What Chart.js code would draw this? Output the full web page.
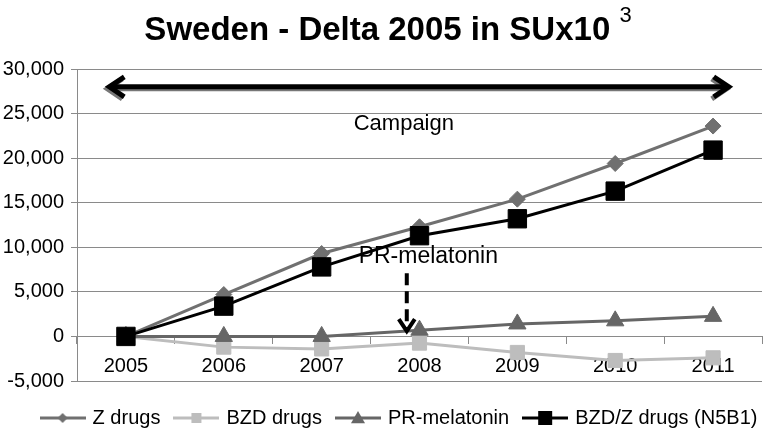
<!DOCTYPE html>
<html>
<head>
<meta charset="utf-8">
<script src="https://cdn.jsdelivr.net/npm/chart.js@4.4.1/dist/chart.umd.min.js"></script>
<style>
  html, body { margin: 0; padding: 0; background: #fff; }
</style>
</head>
<body>
<canvas id="myChart" width="776" height="435"></canvas>
<script>
const years = ["2005", "2006", "2007", "2008", "2009", "2010", "2011"];
const zDrugs = [0, 4700, 9300, 12300, 15400, 19400, 23600];
const bzdDrugs = [0, -1200, -1400, -750, -1800, -2700, -2400];
const prMelatonin = [0, 0, 0, 700, 1400, 1750, 2250];
const bzdZ = [0, 3400, 7800, 11300, 13200, 16300, 20900];
const yMin = -5000;
const yMax = 30000;
const yStep = 5000;

// annotation anchors, in data units (category index, value)
const campaignArrow = { from: -0.17, to: 6.16, y: 28000 };
const campaignLabel = { x: 2.84, y: 23800, text: "Campaign" };
const prLabel = { x: 3.09, y: 9000, text: "PR-melatonin" };
const prArrow = { x: 2.87, from: 7100, to: 600 };

const FONT = '"Liberation Sans", Arial, sans-serif';

function legendIcon(color, shape, size) {
  const c = document.createElement("canvas");
  c.width = 46;
  c.height = 20;
  const g = c.getContext("2d");
  g.strokeStyle = color;
  g.fillStyle = color;
  g.lineWidth = 3;
  g.beginPath();
  g.moveTo(0, 10);
  g.lineTo(46, 10);
  g.stroke();
  g.beginPath();
  if (shape === "diamond") {
    g.moveTo(23, 10 - size);
    g.lineTo(23 + size, 10);
    g.lineTo(23, 10 + size);
    g.lineTo(23 - size, 10);
  } else if (shape === "triangle") {
    g.moveTo(23, 10 - size);
    g.lineTo(23 + size, 10 + size * 0.75);
    g.lineTo(23 - size, 10 + size * 0.75);
  } else {
    g.rect(23 - size, 10 - size, size * 2, size * 2);
  }
  g.closePath();
  g.fill();
  return c;
}

const icons = [
  legendIcon("#707070", "diamond", 5),
  legendIcon("#bdbdbd", "square", 5),
  legendIcon("#666666", "triangle", 7),
  legendIcon("#000000", "square", 7),
];

function drawArrowHead(ctx, tipX, tipY, dx, dy, armLen, armSpread) {
  // dx, dy: unit direction the arrow points to
  const bx = tipX - dx * armLen;
  const by = tipY - dy * armLen;
  ctx.beginPath();
  ctx.moveTo(bx - dy * armSpread, by + dx * armSpread);
  ctx.lineTo(tipX, tipY);
  ctx.lineTo(bx + dy * armSpread, by - dx * armSpread);
  ctx.stroke();
}

const overlay = {
  id: "overlay",
  afterLayout(chart) {
    // move the legend row a bit right and down, like the original
    const lg = chart.legend;
    lg.left += 18;
    lg.right += 18;
    lg.top += 11;
    lg.bottom += 11;
  },
  afterDraw(chart) {
    const ctx = chart.ctx;
    const x = chart.scales.x;
    const y = chart.scales.y;
    ctx.save();

    // title
    const main = "Sweden - Delta 2005 in SUx10 ";
    ctx.fillStyle = "#000";
    ctx.textBaseline = "alphabetic";
    ctx.textAlign = "left";
    ctx.font = "bold 33px " + FONT;
    const w1 = ctx.measureText(main).width;
    ctx.font = "22px " + FONT;
    const w2 = ctx.measureText("3").width;
    const start = (chart.width - w1 - w2) / 2;
    ctx.font = "bold 33px " + FONT;
    ctx.fillText(main, start, 40);
    ctx.font = "22px " + FONT;
    ctx.fillText("3", start + w1, 22);

    // campaign double arrow
    const ax1 = x.getPixelForValue(campaignArrow.from);
    const ax2 = x.getPixelForValue(campaignArrow.to);
    const ay = y.getPixelForValue(campaignArrow.y);
    ctx.lineCap = "butt";
    ctx.lineJoin = "miter";
    [["#777777", -2, 2], ["#000000", 0, 0]].forEach(([col, ox, oy]) => {
      ctx.strokeStyle = col;
      ctx.lineWidth = 5;
      ctx.beginPath();
      ctx.moveTo(ax1 + 3 + ox, ay + oy);
      ctx.lineTo(ax2 - 3 + ox, ay + oy);
      ctx.stroke();
      drawArrowHead(ctx, ax1 + ox, ay + oy, -1, 0, 15, 10);
      drawArrowHead(ctx, ax2 + ox, ay + oy, 1, 0, 15, 10);
    });

    ctx.fillStyle = "#000";
    ctx.textAlign = "center";
    ctx.textBaseline = "middle";
    ctx.font = "22px " + FONT;
    ctx.fillText(campaignLabel.text, x.getPixelForValue(campaignLabel.x), y.getPixelForValue(campaignLabel.y));
    ctx.font = "23px " + FONT;
    ctx.fillText(prLabel.text, x.getPixelForValue(prLabel.x), y.getPixelForValue(prLabel.y));

    // dashed arrow down to 2008
    const dx = x.getPixelForValue(prArrow.x);
    const dy1 = y.getPixelForValue(prArrow.from);
    const dy2 = y.getPixelForValue(prArrow.to);
    ctx.strokeStyle = "#000";
    ctx.lineWidth = 4;
    ctx.setLineDash([12, 6]);
    ctx.beginPath();
    ctx.moveTo(dx, dy1);
    ctx.lineTo(dx, dy2 - 3);
    ctx.stroke();
    ctx.setLineDash([]);
    drawArrowHead(ctx, dx, dy2, 0, 1, 12, 8);

    ctx.restore();
  },
};

new Chart(document.getElementById("myChart"), {
  type: "line",
  data: {
    labels: years,
    datasets: [
      {
        label: "Z drugs",
        data: zDrugs,
        borderColor: "#707070",
        backgroundColor: "#707070",
        borderWidth: 3,
        pointStyle: "rectRot",
        pointRadius: 8,
        pointBorderWidth: 1,
        order: 1,
      },
      {
        label: "BZD drugs",
        data: bzdDrugs,
        borderColor: "#bdbdbd",
        backgroundColor: "#bdbdbd",
        borderWidth: 3,
        pointStyle: "rect",
        pointRadius: 10,
        pointBorderWidth: 1,
        order: 3,
      },
      {
        label: "PR-melatonin",
        data: prMelatonin,
        borderColor: "#666666",
        backgroundColor: "#666666",
        borderWidth: 3,
        pointStyle: "triangle",
        pointRadius: 10,
        pointBorderWidth: 1,
        order: 2,
      },
      {
        label: "BZD/Z drugs (N5B1)",
        data: bzdZ,
        borderColor: "#000000",
        backgroundColor: "#000000",
        borderWidth: 3,
        pointStyle: "rect",
        pointRadius: 13,
        pointBorderWidth: 1,
        order: 0,
      },
    ],
  },
  options: {
    responsive: false,
    animation: false,
    layout: { padding: { top: 69, left: 0, right: 12, bottom: 8 } },
    plugins: {
      tooltip: { enabled: false },
      legend: {
        position: "bottom",
        labels: {
          usePointStyle: true,
          pointStyleWidth: 40,
          padding: 16,
          color: "#000",
          font: { size: 20, family: FONT },
          generateLabels: (chart) =>
            chart.data.datasets.map((ds, i) => ({
              text: ds.label,
              pointStyle: icons[i],
              fillStyle: ds.borderColor,
              strokeStyle: ds.borderColor,
              lineWidth: 0,
              hidden: false,
              datasetIndex: i,
            })),
        },
      },
    },
    scales: {
      x: {
        position: { y: 0 },
        offset: true,
        grid: { offset: true, drawOnChartArea: false, drawTicks: true, tickLength: 7, color: "#8a8a8a" },
        border: { color: "#8a8a8a", width: 1 },
        ticks: { color: "#000", font: { size: 20, family: FONT }, padding: 11, maxRotation: 0 },
      },
      y: {
        min: yMin,
        max: yMax,
        afterFit: (scale) => { scale.width = 77; },
        grid: { color: "#8a8a8a", tickLength: 6 },
        border: { color: "#8a8a8a" },
        ticks: {
          stepSize: yStep,
          color: "#000",
          padding: 7,
          font: { size: 20, family: FONT },
          callback: (v) => v.toLocaleString("en-US"),
        },
      },
    },
  },
  plugins: [overlay],
});
</script>
</body>
</html>
